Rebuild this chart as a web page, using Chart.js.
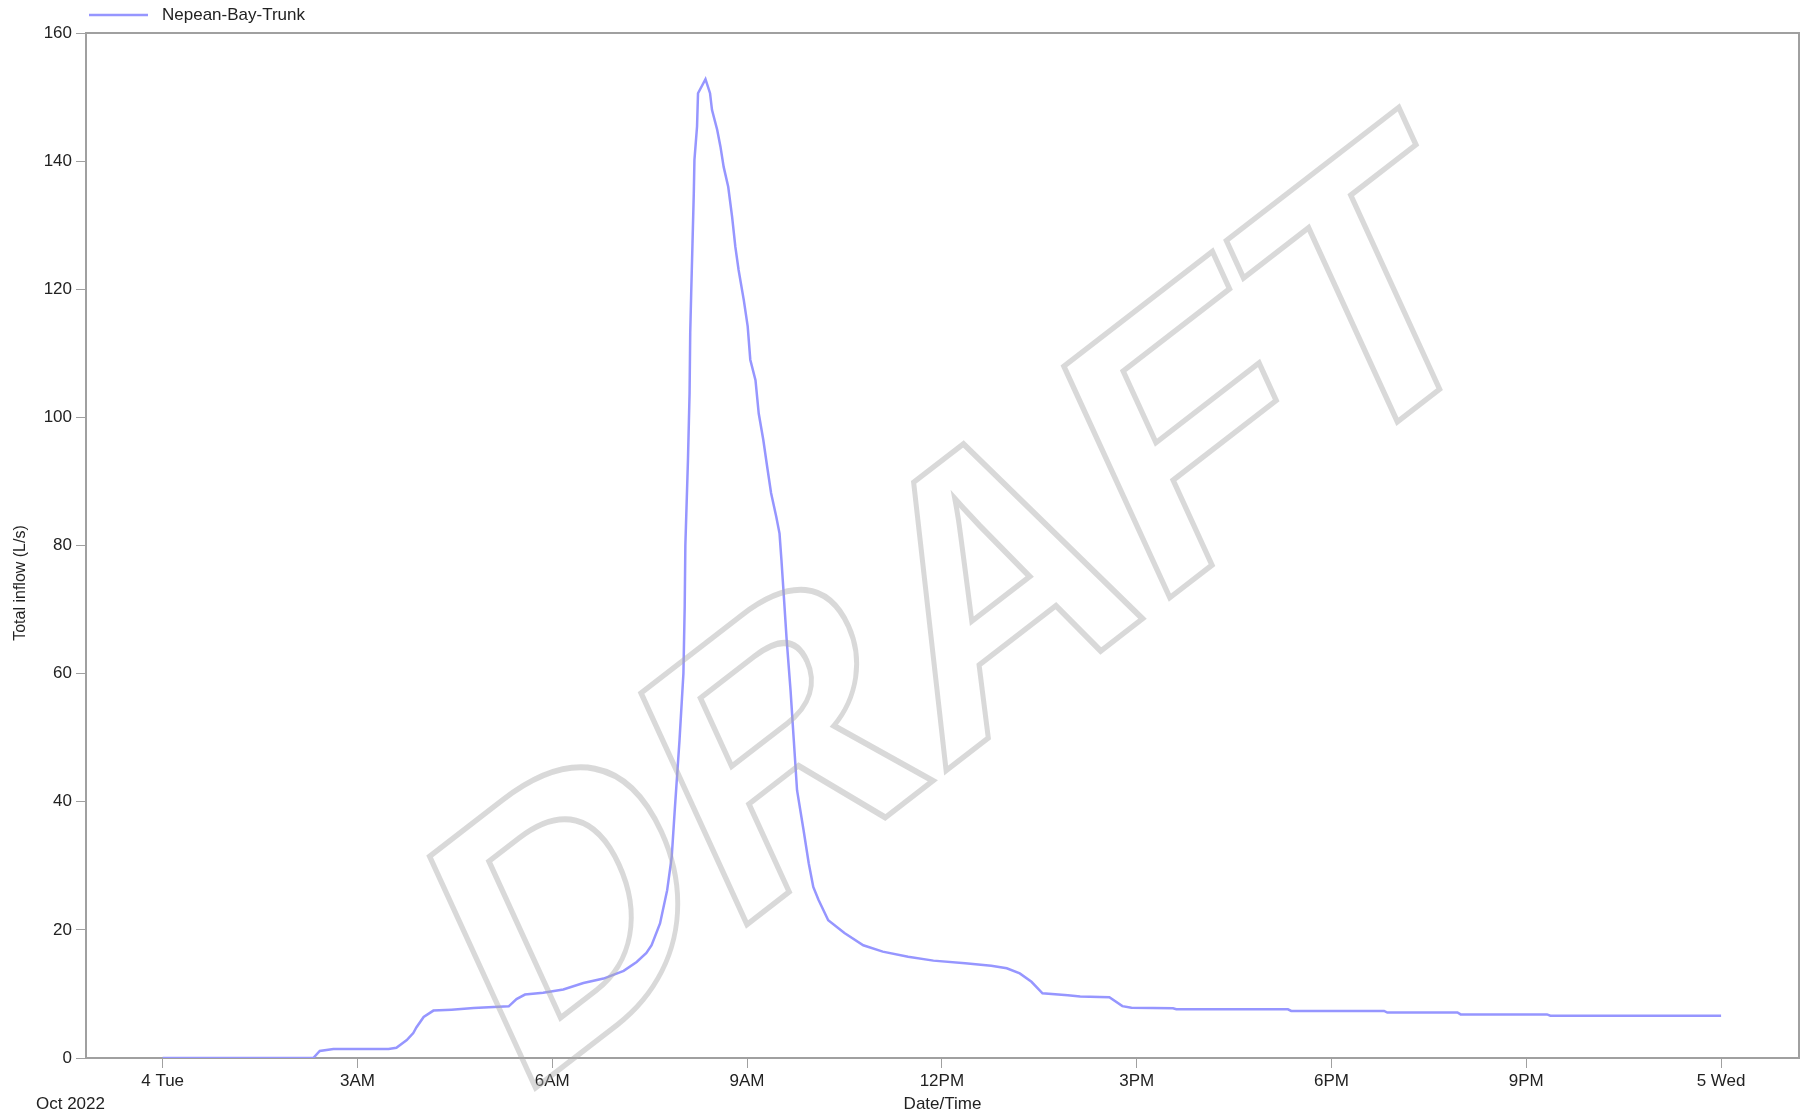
<!DOCTYPE html>
<html>
<head>
<meta charset="utf-8">
<title>Nepean-Bay-Trunk total inflow</title>
<script src="https://cdn.jsdelivr.net/npm/chart.js@4.4.1/dist/chart.umd.min.js"></script>
<style>
  html, body { margin: 0; padding: 0; background: #fff; }
  #wrap { width: 1816px; height: 1119px; }
</style>
</head>
<body>
<div id="wrap"><canvas id="inflowChart"></canvas></div>
<script>
// hours after 4 Oct 2022 00:00
const timeHours = [
  0, 2.32, 2.42, 2.63, 3.48, 3.6, 3.76, 3.86, 3.91, 4.02, 4.17, 4.45, 4.79, 5.33, 5.45, 5.58,
  5.86, 6.17, 6.48, 6.79, 7.1, 7.3, 7.45, 7.53, 7.66, 7.77, 7.84, 7.89, 7.96, 8.02, 8.04, 8.05,
  8.09, 8.115, 8.125, 8.14, 8.16, 8.18, 8.19, 8.23, 8.245, 8.36, 8.43, 8.46, 8.54, 8.59, 8.64,
  8.71, 8.77, 8.82, 8.87, 8.95, 9.01, 9.05, 9.13, 9.18, 9.25, 9.31, 9.37, 9.45, 9.5, 9.53, 9.56,
  9.61, 9.67, 9.72, 9.77, 9.87, 9.95, 10.02, 10.1, 10.25, 10.5, 10.79, 11.09, 11.48, 11.87,
  12.36, 12.76, 13.0, 13.2, 13.38, 13.55, 13.94, 14.13, 14.58, 14.78, 14.92, 15.56, 15.61,
  17.33, 17.38, 18.81, 18.86, 19.94, 19.99, 21.32, 21.37, 24.0
];
// total inflow (L/s)
const inflow = [
  0, 0, 1.1, 1.4, 1.4, 1.6, 2.8, 3.9, 4.8, 6.4, 7.4, 7.55, 7.8, 8.07, 9.2, 9.9,
  10.2, 10.7, 11.7, 12.4, 13.6, 15.0, 16.4, 17.6, 21, 26.2, 31.4, 39.2, 49.6, 60, 70.5, 80,
  93.3, 103.8, 113.2, 119.4, 127.2, 135, 140.2, 145.4, 150.6, 152.8, 150.6, 148, 144.9, 142.3, 139.1,
  136, 131.3, 126.6, 123, 118.3, 114.2, 109, 105.8, 100.6, 96.5, 92.3, 88.2, 84.5, 81.9, 77.7, 73.1,
  65.3, 57.4, 49.6, 41.8, 35.6, 30.4, 26.7, 24.7, 21.5, 19.5, 17.6, 16.6, 15.8, 15.2,
  14.8, 14.4, 14, 13.2, 11.9, 10.1, 9.8, 9.6, 9.5, 8.1, 7.85, 7.75, 7.6,
  7.6, 7.35, 7.35, 7.1, 7.1, 6.8, 6.8, 6.6, 6.6
];
const xTickHours = [0, 3, 6, 9, 12, 15, 18, 21, 24];
const xTickLabels = ['4 Tue', '3AM', '6AM', '9AM', '12PM', '3PM', '6PM', '9PM', '5 Wed'];
const seriesName = 'Nepean-Bay-Trunk';

const lineColor = '#9696ff';
const axisColor = '#a0a0a0';
const textColor = '#222';
const fontFamily = '"Liberation Sans", Arial, sans-serif';

// legend, frame, y title, month label and the DRAFT stamp
const extras = {
  id: 'extras',
  afterDraw(chart) {
    const ctx = chart.ctx;
    const a = chart.chartArea;
    ctx.save();

    // top and right frame lines
    ctx.strokeStyle = axisColor;
    ctx.lineWidth = 2;
    ctx.beginPath();
    ctx.moveTo(a.left, a.top);
    ctx.lineTo(a.right, a.top);
    ctx.lineTo(a.right, a.bottom);
    ctx.stroke();

    // legend
    ctx.strokeStyle = lineColor;
    ctx.lineWidth = 2.5;
    ctx.beginPath();
    ctx.moveTo(89, 15);
    ctx.lineTo(148, 15);
    ctx.stroke();
    ctx.fillStyle = textColor;
    ctx.font = '17px ' + fontFamily;
    ctx.textAlign = 'left';
    ctx.textBaseline = 'middle';
    ctx.fillText(seriesName, 162, 15);

    // month under first tick
    ctx.fillText('Oct 2022', 36, 1104);

    // y axis title
    ctx.save();
    ctx.translate(21, 583);
    ctx.rotate(-Math.PI / 2);
    ctx.textAlign = 'center';
    ctx.font = '16px ' + fontFamily;
    ctx.fillText('Total inflow (L/s)', 0, 0);
    ctx.restore();

    // DRAFT watermark, slanted like the original
    const ang = 37.7 * Math.PI / 180;
    const lean = 24.6 * Math.PI / 180;
    ctx.setTransform(Math.cos(ang), -Math.sin(ang), Math.sin(lean), Math.cos(lean), 516, 1103);
    ctx.font = 'bold 370px ' + fontFamily;
    ctx.textAlign = 'left';
    ctx.textBaseline = 'alphabetic';
    ctx.lineJoin = 'miter';
    ctx.lineWidth = 5.5;
    ctx.strokeStyle = 'rgba(170,170,170,0.45)';
    ctx.strokeText('DRAFT', 0, 0);

    ctx.restore();
  }
};

const ctxLine = document.getElementById('inflowChart').getContext('2d');
const inflowChart = new Chart(ctxLine, {
  type: 'line',
  data: {
    datasets: [{
      label: seriesName,
      data: timeHours.map((h, i) => ({ x: h, y: inflow[i] })),
      borderColor: lineColor,
      borderWidth: 2.5,
      pointRadius: 0,
      tension: 0,
      fill: false
    }]
  },
  options: {
    responsive: true,
    maintainAspectRatio: false,
    animation: false,
    layout: { padding: { top: 33, right: 17, left: 0, bottom: 0 } },
    plugins: {
      legend: { display: false },
      tooltip: { enabled: false }
    },
    scales: {
      x: {
        type: 'linear',
        min: -1.18,
        max: 25.2,
        afterBuildTicks: s => { s.ticks = xTickHours.map(v => ({ value: v })); },
        afterFit: s => { s.height = 61; },
        ticks: {
          autoSkip: false,
          maxRotation: 0,
          padding: 3,
          color: textColor,
          font: { family: fontFamily, size: 17 },
          callback: v => xTickLabels[xTickHours.indexOf(v)]
        },
        grid: { drawOnChartArea: false, tickLength: 10, color: axisColor },
        border: { color: axisColor, width: 2 },
        title: {
          display: true,
          text: 'Date/Time',
          color: textColor,
          font: { family: fontFamily, size: 17 },
          padding: { top: 0, bottom: 4 }
        }
      },
      y: {
        min: 0,
        max: 160,
        afterFit: s => { s.width = 86; },
        ticks: {
          stepSize: 20,
          padding: 4,
          color: textColor,
          font: { family: fontFamily, size: 17 }
        },
        grid: { drawOnChartArea: false, tickLength: 10, color: axisColor },
        border: { color: axisColor, width: 2 }
      }
    }
  },
  plugins: [extras]
});
</script>
</body>
</html>
